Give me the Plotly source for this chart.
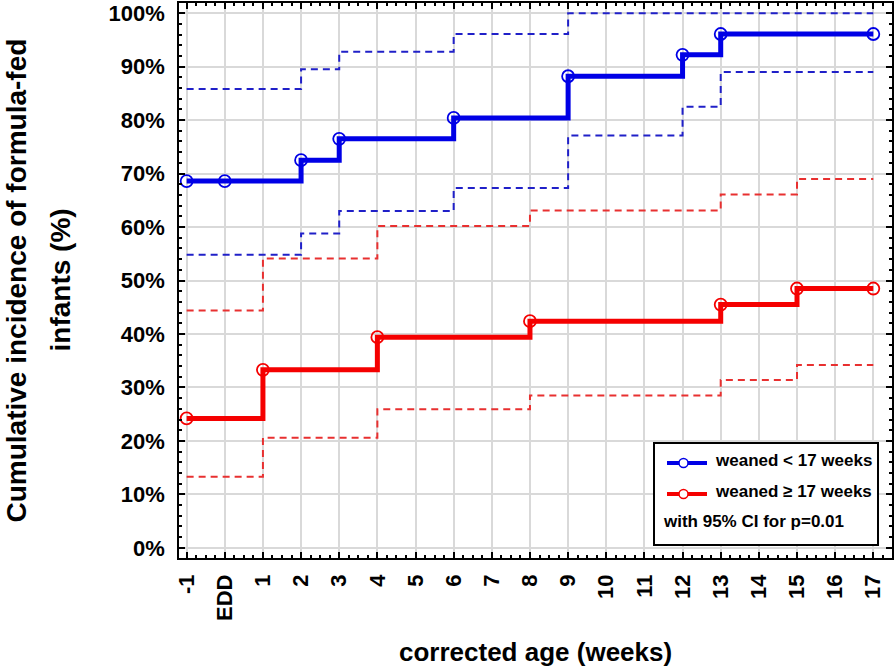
import plotly.graph_objects as go

# ---------------- data ----------------
categories = ["-1", "EDD", "1", "2", "3", "4", "5", "6", "7", "8", "9",
              "10", "11", "12", "13", "14", "15", "16", "17"]

blue_x = ["-1", "EDD", "2", "3", "6", "9", "12", "13", "17"]
blue_y = [68.6, 68.6, 72.5, 76.5, 80.4, 88.2, 92.2, 96.1, 96.1]

blue_upper_x = ["-1", "2", "3", "6", "9", "17"]
blue_upper_y = [85.8, 89.5, 92.8, 96.1, 100.0, 100.0]

blue_lower_x = ["-1", "2", "3", "6", "9", "12", "13", "17"]
blue_lower_y = [54.8, 58.8, 63.0, 67.3, 77.1, 82.5, 89.0, 89.0]

red_x = ["-1", "1", "4", "8", "13", "15", "17"]
red_y = [24.2, 33.3, 39.4, 42.4, 45.5, 48.5, 48.5]

red_upper_x = ["-1", "1", "4", "8", "13", "15", "17"]
red_upper_y = [44.4, 54.1, 60.2, 63.1, 66.1, 69.0, 69.0]

red_lower_x = ["-1", "1", "4", "8", "13", "15", "17"]
red_lower_y = [13.3, 20.6, 25.9, 28.5, 31.4, 34.2, 34.2]

y_ticks = [0, 10, 20, 30, 40, 50, 60, 70, 80, 90, 100]
y_ticktext = [f"{v}%" for v in y_ticks]

legend_labels = ["weaned < 17 weeks", "weaned \u2265 17 weeks", "with 95% CI for p=0.01"]

# ---------------- styles ----------------
BLUE = "#0000e6"
RED = "#f50000"
BLUE_D = "#2020c8"
RED_D = "#e83030"
FONT = "Arial, Liberation Sans, sans-serif"


def idx(labels):
    return [categories.index(c) for c in labels]


fig = go.Figure()

for xs, ys, col in [(blue_upper_x, blue_upper_y, BLUE_D), (blue_lower_x, blue_lower_y, BLUE_D),
                    (red_upper_x, red_upper_y, RED_D), (red_lower_x, red_lower_y, RED_D)]:
    fig.add_trace(go.Scatter(x=idx(xs), y=ys, mode="lines", line_shape="hv",
                             line=dict(color=col, width=2, dash="7px,5px"),
                             showlegend=False, hoverinfo="skip"))

for xs, ys, col, name in [(blue_x, blue_y, BLUE, legend_labels[0]), (red_x, red_y, RED, legend_labels[1])]:
    fig.add_trace(go.Scatter(x=idx(xs), y=ys, mode="lines+markers", line_shape="hv",
                             line=dict(color=col, width=5),
                             marker=dict(symbol="circle-open", size=12, color=col, line=dict(width=1.8, color=col)),
                             name=name, showlegend=False))

# plot area in pixels: x 179..892, y 3..558
L, R, T, B = 179, 892, 3, 558
W, H = R - L, B - T


def px(x):
    return (x - L) / W


def py(y):
    return (B - y) / H


shapes = [
    dict(type="rect", xref="paper", yref="paper", x0=px(654), x1=px(878), y0=py(545), y1=py(443),
         line=dict(color="black", width=2), fillcolor="white", layer="above"),
    dict(type="line", xref="paper", yref="paper", x0=px(667), x1=px(707), y0=py(463), y1=py(463),
         line=dict(color=BLUE, width=4), layer="above"),
    dict(type="circle", xref="paper", yref="paper", x0=px(679), x1=px(688), y0=py(467.5), y1=py(458.5),
         line=dict(color=BLUE, width=1.5), fillcolor="white", layer="above"),
    dict(type="line", xref="paper", yref="paper", x0=px(667), x1=px(707), y0=py(494), y1=py(494),
         line=dict(color=RED, width=4), layer="above"),
    dict(type="circle", xref="paper", yref="paper", x0=px(679), x1=px(688), y0=py(498.5), y1=py(489.5),
         line=dict(color=RED, width=1.5), fillcolor="white", layer="above"),
]

annotations = [
    dict(text=f"<b>{legend_labels[0]}</b>", xref="paper", yref="paper", x=px(713), y=py(460),
         xanchor="left", yanchor="middle", showarrow=False, font=dict(size=17, family=FONT, color="black")),
    dict(text=f"<b>{legend_labels[1]}</b>", xref="paper", yref="paper", x=px(713), y=py(491),
         xanchor="left", yanchor="middle", showarrow=False, font=dict(size=17, family=FONT, color="black")),
    dict(text=f"<b>{legend_labels[2]}</b>", xref="paper", yref="paper", x=px(661), y=py(521),
         xanchor="left", yanchor="middle", showarrow=False, font=dict(size=17, family=FONT, color="black")),
    dict(text="<b>corrected age (weeks)</b>", xref="paper", yref="paper", x=0.5, y=py(652),
         xanchor="center", yanchor="middle", showarrow=False, font=dict(size=26, family=FONT, color="black")),
    dict(text="<b>Cumulative incidence of formula-fed</b>", xref="paper", yref="paper", x=px(16), y=0.5,
         xanchor="center", yanchor="middle", textangle=-90, showarrow=False,
         font=dict(size=28, family=FONT, color="black")),
    dict(text="<b>infants (%)</b>", xref="paper", yref="paper", x=px(60), y=0.5,
         xanchor="center", yanchor="middle", textangle=-90, showarrow=False,
         font=dict(size=28, family=FONT, color="black")),
]

fig.update_layout(
    width=896, height=671,
    margin=dict(l=L, r=896 - R, t=T, b=671 - B, autoexpand=False),
    paper_bgcolor="white", plot_bgcolor="white",
    shapes=shapes, annotations=annotations,
    font=dict(family=FONT, color="black"),
)

fig.update_xaxes(
    range=[-0.2, 18.49], automargin=False,
    tickmode="array", tickvals=list(range(len(categories))),
    ticktext=[f"<b>{c}</b>" for c in categories],
    tickangle=-90, tickfont=dict(size=22, family=FONT, color="black"),
    ticks="inside", ticklen=6, tickwidth=1.5, tickcolor="black",
    ticklabelstandoff=6,
    showline=True, linecolor="black", linewidth=1.5, mirror="ticks",
    showgrid=True, gridcolor="#d9d9d9", gridwidth=2, zeroline=False,
    minor=dict(dtick=0.25, tick0=0, ticks="inside", ticklen=3, tickcolor="black", showgrid=False),
)

fig.update_yaxes(
    range=[-1.9, 101.9], automargin=False,
    tickmode="array", tickvals=y_ticks, ticktext=[f"<b>{t}</b>" for t in y_ticktext],
    tickfont=dict(size=22, family=FONT, color="black"),
    ticks="inside", ticklen=6, tickwidth=1.5, tickcolor="black",
    ticklabelstandoff=8,
    showline=True, linecolor="black", linewidth=1.5, mirror="ticks",
    showgrid=True, gridcolor="#d9d9d9", gridwidth=2, zeroline=False,
    minor=dict(dtick=2, tick0=0, ticks="inside", ticklen=3, tickcolor="black", showgrid=False),
)

fig.write_html("out.html", config={"displayModeBar": False},
               post_script="document.body.style.margin='0';document.body.style.overflow='hidden';")
